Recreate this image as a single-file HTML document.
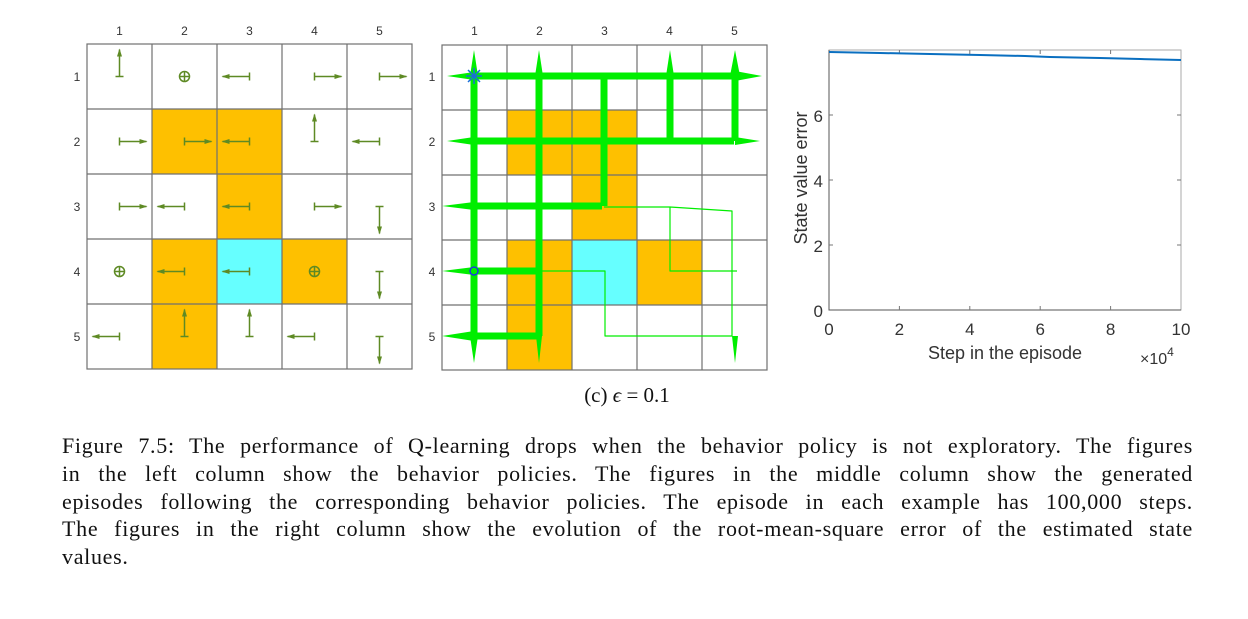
<!DOCTYPE html>
<html><head><meta charset="utf-8"><style>
body{margin:0;background:#fff;width:1248px;height:619px;overflow:hidden;position:relative}
.cap{position:absolute;left:62px;width:1131px;top:432px;font-family:"Liberation Serif",serif;font-size:22px;letter-spacing:0.7px;line-height:27.8px;color:#111}
.cap div{text-align:justify;text-align-last:justify;white-space:nowrap;height:27.8px}
.cap div.last{text-align-last:left}
</style></head><body>
<svg width="1248" height="619" style="position:absolute;left:0;top:0" font-family="Liberation Sans, sans-serif">
<defs>
<marker id="ah" markerWidth="8" markerHeight="6" refX="7" refY="3" orient="auto" markerUnits="userSpaceOnUse"><path d="M0,0.5 L8,3 L0,5.5 Z" fill="#5e8a24"/></marker>
</defs>
<g transform="translate(87,44)">
<rect x="0" y="0" width="325" height="325" fill="#fff"/>
<rect x="65" y="65" width="130" height="65" fill="#fec000"/>
<rect x="130" y="130" width="65" height="65" fill="#fec000"/>
<rect x="65" y="195" width="65" height="65" fill="#fec000"/>
<rect x="195" y="195" width="65" height="65" fill="#fec000"/>
<rect x="65" y="260" width="65" height="65" fill="#fec000"/>
<rect x="130" y="195" width="65" height="65" fill="#66ffff"/>
<g stroke="#707070" stroke-width="1.2" fill="none">
<rect x="0" y="0" width="325" height="325"/>
<path d="M65,0V325M130,0V325M195,0V325M260,0V325M0,65H325M0,130H325M0,195H325M0,260H325"/>
</g>
<g stroke="#5e8a24" stroke-width="1.5" fill="none" id="arrows1"></g>
</g>
<g transform="translate(442,45)">
<rect x="0" y="0" width="325" height="325" fill="#fff"/>
<rect x="65" y="65" width="130" height="65" fill="#fec000"/>
<rect x="130" y="130" width="65" height="65" fill="#fec000"/>
<rect x="65" y="195" width="65" height="65" fill="#fec000"/>
<rect x="195" y="195" width="65" height="65" fill="#fec000"/>
<rect x="65" y="260" width="65" height="65" fill="#fec000"/>
<rect x="130" y="195" width="65" height="65" fill="#66ffff"/>
<g stroke="#707070" stroke-width="1.2" fill="none">
<rect x="0" y="0" width="325" height="325"/>
<path d="M65,0V325M130,0V325M195,0V325M260,0V325M0,65H325M0,130H325M0,195H325M0,260H325"/>
</g>
<g stroke="#00ee00" fill="none" stroke-linejoin="round">
<path stroke-width="7" d="M32,31H293M32,96H292M32,161H160M32,226H97M32,291H95"/>
<path stroke-width="7" d="M32,31V291M97,31V291M162,31V161M228,31V96M293,31V96"/>
<path stroke-width="1.2" d="M162,162H228L290,166V226V291H228H163V226H97M228,162V226H295M163,226V291M97,226H160"/>
</g>
<g fill="#00ee00">
<path d="M5,31L32,27L32,35Z M5,96L32,92L32,100Z M0,161L32,157L32,165Z M0,226L32,222L32,230Z M0,291L32,286L32,296Z"/>
<path d="M320,31L293,26L293,36Z M318,96L293,92L293,100Z"/>
<path d="M32,5L28,31L36,31Z M97,5L93,31L101,31Z M228,5L224,31L232,31Z M293,5L288,31L298,31Z"/>
<path d="M32,318L28,291L36,291Z M97,318L94,291L100,291Z M293,318L290,291L296,291Z"/>
</g>
<g stroke="#1a6fd8" stroke-width="1.5"><path d="M26,25L38,37M38,25L26,37M32,23V39M24,31H40"/></g>
<circle cx="32" cy="226" r="4" fill="none" stroke="#2020ff" stroke-width="1.3"/>
</g>
<g font-size="12" fill="#333" text-anchor="middle">
<text x="119.5" y="35">1</text><text x="184.5" y="35">2</text><text x="249.5" y="35">3</text><text x="314.5" y="35">4</text><text x="379.5" y="35">5</text>
<text x="77" y="81">1</text><text x="77" y="146">2</text><text x="77" y="211">3</text><text x="77" y="276">4</text><text x="77" y="341">5</text>
<text x="474.5" y="35">1</text><text x="539.5" y="35">2</text><text x="604.5" y="35">3</text><text x="669.5" y="35">4</text><text x="734.5" y="35">5</text>
<text x="432" y="81">1</text><text x="432" y="146">2</text><text x="432" y="211">3</text><text x="432" y="276">4</text><text x="432" y="341">5</text>
</g>
<g>
<rect x="829" y="50" width="352" height="260" fill="#fff" stroke="#aaa" stroke-width="1"/>
<path d="M829,50V310H1181" stroke="#555" fill="none" stroke-width="1"/>
<g stroke="#777" stroke-width="1">
<path d="M829,245h4M829,180h4M829,115h4M1181,245h-4M1181,180h-4M1181,115h-4"/>
<path d="M899.4,310v-4M969.8,310v-4M1040.2,310v-4M1110.6,310v-4M899.4,50v4M969.8,50v4M1040.2,50v4M1110.6,50v4"/>
</g>
<path d="M829,52L880,53L930,54L980,55L1025,56L1050,57L1100,58L1140,59L1181,60" stroke="#0a6fc0" stroke-width="2" fill="none"/>
<g font-size="17" fill="#333" text-anchor="end">
<text x="823" y="317">0</text><text x="823" y="252">2</text><text x="823" y="187">4</text><text x="823" y="122">6</text>
</g>
<g font-size="17" fill="#333" text-anchor="middle">
<text x="829" y="335">0</text><text x="899.4" y="335">2</text><text x="969.8" y="335">4</text><text x="1040.2" y="335">6</text><text x="1110.6" y="335">8</text><text x="1181" y="335">10</text>
<text x="1005" y="359" font-size="18">Step in the episode</text>
<text transform="translate(807,178) rotate(-90)" font-size="18">State value error</text>
</g>
<text x="1140" y="364" font-size="16" fill="#333">×10<tspan font-size="12" dy="-8">4</tspan></text>
</g>
<text x="627" y="402" font-family="Liberation Serif, serif" font-size="21" text-anchor="middle" fill="#111">(c) <tspan font-style="italic">ϵ</tspan> = 0.1</text>
</svg>
<div class="cap">
<div>Figure 7.5: The performance of Q-learning drops when the behavior policy is not exploratory. The figures</div>
<div>in the left column show the behavior policies. The figures in the middle column show the generated</div>
<div>episodes following the corresponding behavior policies. The episode in each example has 100,000 steps.</div>
<div>The figures in the right column show the evolution of the root-mean-square error of the estimated state</div>
<div class="last">values.</div>
</div>
<script>
var d=[["u","o","l","r","r"],["r","r","l","u","l"],["r","l","l","r","d"],["o","l","l","o","d"],["l","u","u","l","d"]];
var g=document.getElementById("arrows1"),s="";
for(var r=0;r<5;r++)for(var c=0;c<5;c++){var x=c*65+32.5,y=r*65+32.5,k=d[r][c];
if(k=="o"){s+='<circle cx="'+x+'" cy="'+y+'" r="5"/><path d="M'+(x-5)+','+y+'h10M'+x+','+(y-5)+'v10"/>';continue;}
var L=27,dx=k=="r"?L:k=="l"?-L:0,dy=k=="d"?L:k=="u"?-L:0;
s+='<path d="M'+x+','+y+'L'+(x+dx)+','+(y+dy)+'" marker-end="url(#ah)"/>';
if(dx)s+='<path d="M'+x+','+(y-4)+'v8"/>';else s+='<path d="M'+(x-4)+','+y+'h8"/>';}
g.innerHTML=s;
</script>
</body></html>
